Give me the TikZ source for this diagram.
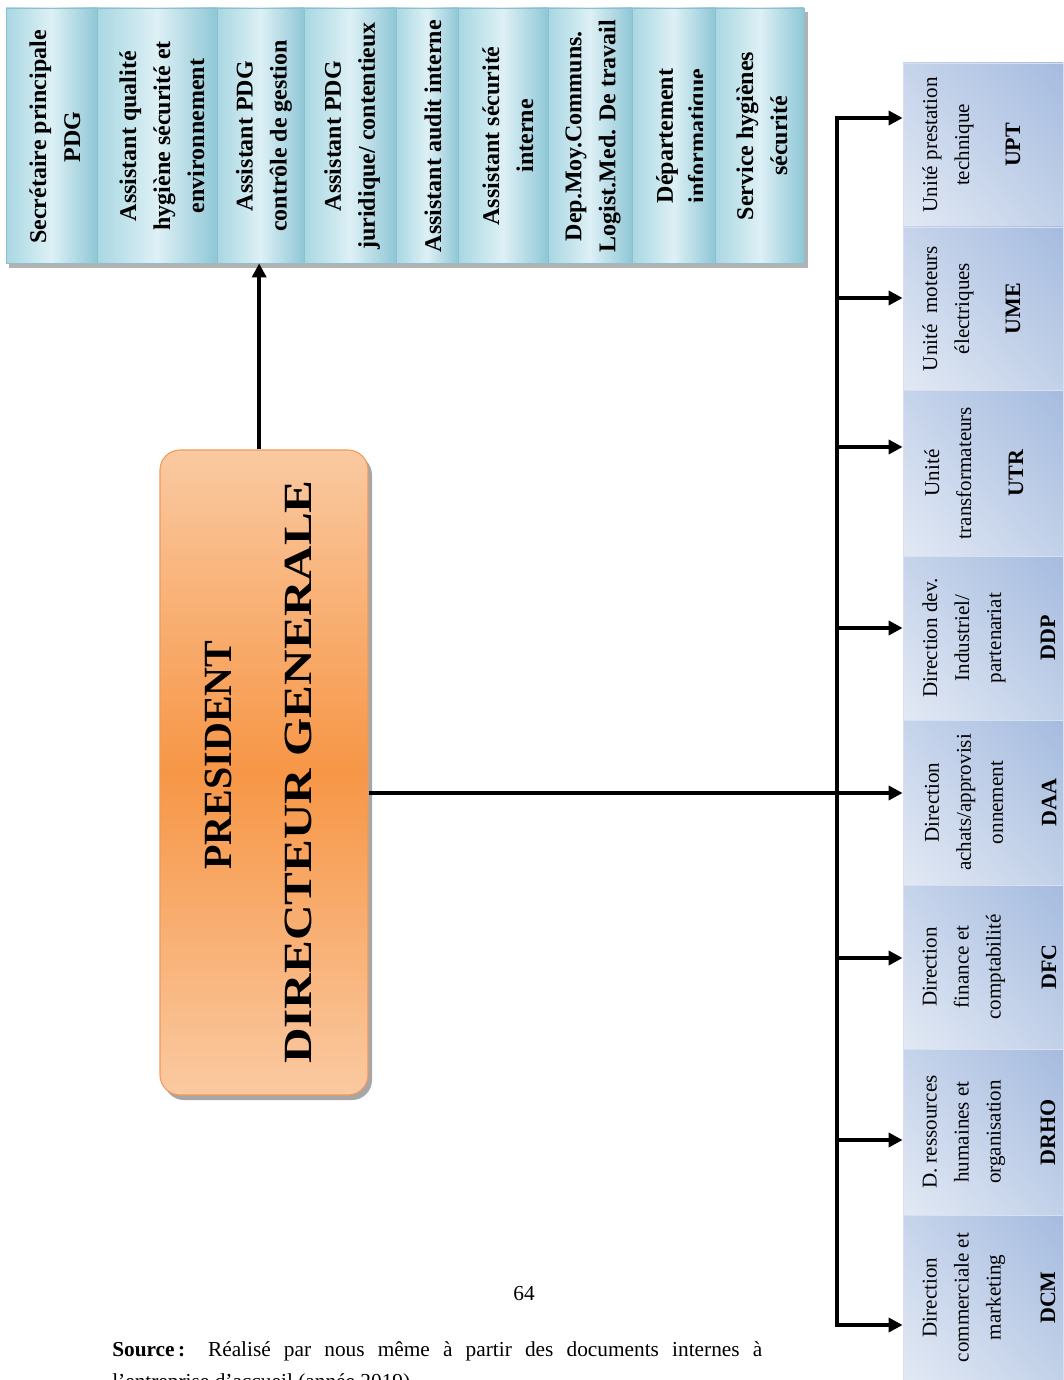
\documentclass[tikz,border=0pt]{standalone}
\usepackage{fontspec}
\setmainfont{Liberation Serif}
\usetikzlibrary{arrows.meta,shadings}
\definecolor{topA}{HTML}{A9D7E2}
\definecolor{topB}{HTML}{8FC7D6}
\definecolor{topC}{HTML}{DDF0F5}
\definecolor{topEdge}{HTML}{8CC0CE}
\definecolor{rbUL}{HTML}{C6D4EB}
\definecolor{rbUR}{HTML}{A5BBDF}
\definecolor{rbLL}{HTML}{E2E9F4}
\definecolor{rbLR}{HTML}{C2D1E9}
\definecolor{rbEdge}{HTML}{D6E0EE}
\definecolor{orMid}{HTML}{F79646}
\definecolor{orEnd}{HTML}{FAC9A1}
\definecolor{orEdge}{HTML}{EE9A5C}
\begin{document}
\begin{tikzpicture}[x=0.75pt,y=-0.75pt,
  topcell/.style={draw=topEdge, line width=0.6pt, left color=topA, right color=topB, middle color=topC,
    inner sep=0pt, minimum height=255*0.75pt},
  toptext/.style={rotate=90, align=center, inner sep=0pt,
    font=\bfseries\fontsize{18}{25.5}\selectfont},
  rbox/.style={draw=rbEdge, line width=0.6pt, upper left=rbUL, upper right=rbUR, lower left=rbLL, lower right=rbLR,
    inner sep=0pt, minimum width=160*0.75pt},
  rtext/.style={rotate=90, align=center, inner sep=0pt, font=\fontsize{15.8}{24}\selectfont},
  racr/.style={rotate=90, inner sep=0pt, font=\bfseries\fontsize{16.5}{18}\selectfont},
  arr/.style={line width=3pt, -{Triangle[length=10.5pt,width=10.5pt]}},
  busline/.style={line width=3pt}
]
\useasboundingbox (0,0) rectangle (1063,1380);

% ---------- top strip ----------
\fill[black!30] (9,12) rectangle (808,268);
\node[topcell, minimum width=91*0.75pt] (c1) at (51.5,135.5) {};
\node[topcell, minimum width=120*0.75pt] (c2) at (157,135.5) {};
\node[topcell, minimum width=87*0.75pt] (c3) at (260.5,135.5) {};
\node[topcell, minimum width=92*0.75pt] (c4) at (350,135.5) {};
\node[topcell, minimum width=62*0.75pt] (c5) at (427,135.5) {};
\node[topcell, minimum width=90*0.75pt] (c6) at (503,135.5) {};
\node[topcell, minimum width=84*0.75pt] (c7) at (590,135.5) {};
\node[topcell, minimum width=83*0.75pt] (c8) at (673.5,135.5) {};
\node[topcell, minimum width=89*0.75pt] (c9) at (759.5,135.5) {};

\node[toptext] (t1) at (55,137) {Secrétaire principale\\PDG};
\node[toptext] (t2) at (162,136) {Assistant qualité\\hygiène sécurité et\\environnement};
\node[toptext] (t3) at (264,136) {Assistant PDG\\contrôle de gestion};
\node[toptext] (t4) at (352,136) {Assistant PDG\\juridique/ contentieux};
\node[toptext] (t5) at (433,136) {Assistant audit interne};
\node[toptext] (t6) at (508,136) {Assistant sécurité\\interne};
\node[toptext] (t7) at (593,136) {Dep.Moy.Communs.\\Logist.Med. De travail};
\begin{scope}
  \clip (632,8) rectangle (702,263);
  \node[toptext, font=\bfseries\fontsize{18}{24}\selectfont] (t8) at (683,136) {Département\\informatique};
\end{scope}
\node[toptext] (t9) at (762,136) {Service hygiènes\\sécurité};

% ---------- PDG ----------
\fill[black!35, rounded corners=15pt] (164,455) rectangle (372,1100);
\node[draw=orEdge, line width=0.8pt, rounded corners=15pt, top color=orEnd, bottom color=orEnd, middle color=orMid,
  minimum width=208*0.75pt, minimum height=645*0.75pt, inner sep=0pt] (pdg) at (264,772.5) {};
\node[rotate=90, inner sep=0pt, font=\bfseries\fontsize{30}{30}\selectfont] (pdgA) at (218,755) {PRESIDENT};
\node[rotate=90, inner sep=0pt, font=\bfseries\fontsize{30}{30}\selectfont] (pdgB) at (298,772) {\scalebox{1.23}[1]{DIRECTEUR GENERALE}};

% ---------- right column ----------
\node[rbox, minimum height=164*0.75pt] (r1) at (983,145) {};
\node[rbox, minimum height=163*0.75pt] (r2) at (983,308.5) {};
\node[rbox, minimum height=166*0.75pt] (r3) at (983,473) {};
\node[rbox, minimum height=164*0.75pt] (r4) at (983,638) {};
\node[rbox, minimum height=165*0.75pt] (r5) at (983,802.5) {};
\node[rbox, minimum height=164*0.75pt] (r6) at (983,967) {};
\node[rbox, minimum height=166*0.75pt] (r7) at (983,1132) {};
\node[rbox, minimum height=165*0.75pt] (r8) at (983,1297.5) {};

\node[rtext] (u1) at (948,145) {Unité prestation\\technique};
\node[racr] (a1) at (1013,145) {UPT};
\node[rtext] (u2) at (948,308.5) {Unité\ \ moteurs\\électriques};
\node[racr] (a2) at (1013,308.5) {UME};
\node[rtext] (u3) at (948,473) {Unité\\transformateurs};
\node[racr] (a3) at (1016,473) {UTR};
\node[rtext] (u4) at (964,638) {Direction dev.\\Industriel/\\partenariat};
\node[racr] (a4) at (1048,638) {DDP};
\node[rtext] (u5) at (964,802.5) {Direction\\achats/approvisi\\onnement};
\node[racr] (a5) at (1049,802.5) {DAA};
\node[rtext] (u6) at (964,967) {Direction\\finance et\\comptabilité};
\node[racr] (a6) at (1049,967) {DFC};
\node[rtext] (u7) at (964,1132) {D. ressources\\humaines et\\organisation};
\node[racr] (a7) at (1048,1132) {DRHO};
\node[rtext] (u8) at (964,1297.5) {Direction\\commerciale et\\marketing};
\node[racr] (a8) at (1048,1297.5) {DCM};

% ---------- connectors ----------
\coordinate (b1) at (837,118);
\coordinate (b2) at (837,298);
\coordinate (b3) at (837,447);
\coordinate (b4) at (837,628);
\coordinate (b5) at (837,793);
\coordinate (b6) at (837,958);
\coordinate (b7) at (837,1140);
\coordinate (b8) at (837,1325);

\draw[busline] (b1) -- (b8);
\draw[arr] (b2) -- (b1) -- (b1 -| r1.west);
\draw[arr] (b2) -- (b2 -| r2.west);
\draw[arr] (b3) -- (b3 -| r3.west);
\draw[arr] (b4) -- (b4 -| r4.west);
\draw[arr] (pdg.east |- b5) -- (b5 -| r5.west);
\draw[arr] (b6) -- (b6 -| r6.west);
\draw[arr] (b7) -- (b7 -| r7.west);
\draw[arr] (b7) -- (b8) -- (b8 -| r8.west);

\draw[arr] ([xshift=-1pt]pdg.north -| c3.south) -- ([xshift=-1pt]c3.south);

% ---------- page text ----------
\node[anchor=base, inner sep=0pt, font=\fontsize{16}{19}\selectfont] (pg) at (524,1300) {64};
\node[anchor=base west, inner sep=0pt, font=\fontsize{16}{19}\selectfont] (src1) at (112,1356)
  {\hbox to 487.5pt{\textbf{Source\,:} Réalisé par nous même à partir des documents internes à}};
\node[anchor=base west, inner sep=0pt, font=\fontsize{16}{19}\selectfont] (src2) at (112,1388)
  {l’entreprise d’accueil (année 2019)};
\end{tikzpicture}
\end{document}
